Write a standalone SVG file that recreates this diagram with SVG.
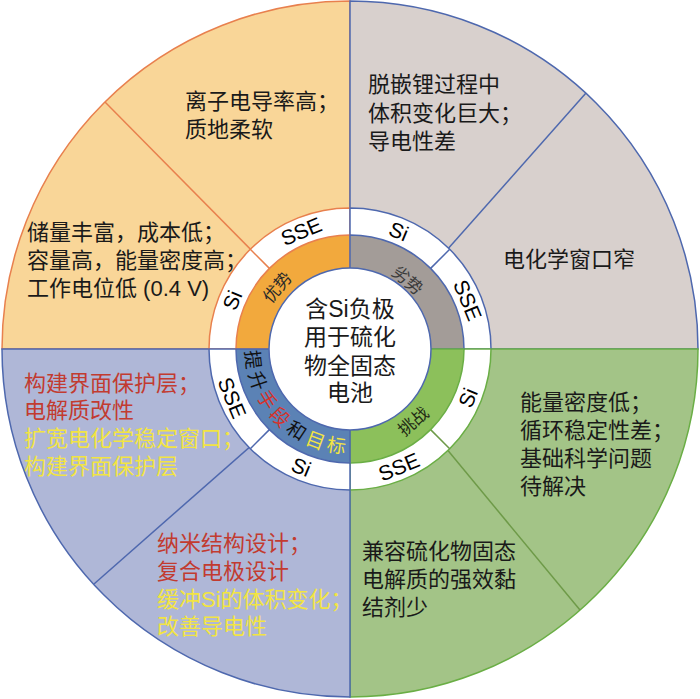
<svg xmlns="http://www.w3.org/2000/svg" width="700" height="699" viewBox="0 0 700 699">
<style>
.t{font-family:"Liberation Sans","Noto Sans CJK SC",sans-serif;font-size:22px;fill:#1a1a1a}
.c{font-family:"Liberation Sans","Noto Sans CJK SC",sans-serif;font-size:23px;fill:#1a1a1a;text-anchor:middle}
.r{font-family:"Liberation Sans",sans-serif;font-size:21px;fill:#000;text-anchor:middle}
.k{font-family:"Noto Sans CJK SC",sans-serif;font-size:17px;text-anchor:middle}
.p{font-family:"Noto Sans CJK SC",sans-serif;font-size:19px;text-anchor:middle}
.red{fill:#C23B30}
.yel{fill:#F2E443}
.or{stroke:#E8804E;stroke-width:1.5}
.bl{stroke:#4E68AE;stroke-width:1.5}
.gr{stroke:#6AAE45;stroke-width:1.5}
</style>
<g id="quadrant-advantage">
<path class="or" fill="#F9D698" d="M350,349 L2,349 A348,348 0 0 1 350,1 Z"/>
</g>
<g id="quadrant-disadvantage">
<path class="bl" fill="#D8D0CD" d="M350,349 L350,1 A348,348 0 0 1 698,349 Z"/>
</g>
<g id="quadrant-challenge">
<path class="gr" fill="#A3C487" d="M350,349 L698,349 A348,348 0 0 1 350,697 Z"/>
</g>
<g id="quadrant-strategy">
<path class="bl" fill="#AFB7D7" d="M350,349 L350,697 A348,348 0 0 1 2,349 Z"/>
</g>
<g id="connectors">
<line class="or" x1="269.4" y1="268.4" x2="105" y2="102"/>
<line class="bl" x1="430.6" y1="268.4" x2="586" y2="93"/>
<line x1="430.6" y1="429.6" x2="580" y2="610" stroke="#6E9A48" stroke-width="1.5"/>
<line class="bl" x1="269.4" y1="429.6" x2="94" y2="584"/>
</g>
<g id="ring-white">
<path class="or" fill="#fff" d="M350,349 L209,349 A141,141 0 0 1 350,208 Z"/>
<path class="bl" fill="#fff" d="M350,349 L350,208 A141,141 0 0 1 491,349 Z"/>
<path class="gr" fill="#fff" d="M350,349 L491,349 A141,141 0 0 1 350,490 Z"/>
<path class="bl" fill="#fff" d="M350,349 L350,490 A141,141 0 0 1 209,349 Z"/>
<line class="or" x1="269.4" y1="268.4" x2="250.3" y2="249.3"/>
<line class="bl" x1="430.6" y1="268.4" x2="449.7" y2="249.3"/>
<line x1="430.6" y1="429.6" x2="449.7" y2="448.7" stroke="#6E9A48" stroke-width="1.5"/>
<line class="bl" x1="269.4" y1="429.6" x2="250.3" y2="448.7"/>
</g>
<g id="ring-labels">
<text class="r" transform="translate(301.2,231.2) rotate(-22.5)" y="7.5">SSE</text>
<text class="r" transform="translate(232.2,300.2) rotate(-67.5)" y="7.5">Si</text>
<text class="r" transform="translate(398.8,231.2) rotate(22.5)" y="7.5">Si</text>
<text class="r" transform="translate(467.8,300.2) rotate(67.5)" y="7.5">SSE</text>
<text class="r" transform="translate(467.8,397.8) rotate(-67.5)" y="7.5">Si</text>
<text class="r" transform="translate(398.8,466.8) rotate(-22.5)" y="7.5">SSE</text>
<text class="r" transform="translate(232.2,397.8) rotate(67.5)" y="7.5">SSE</text>
<text class="r" transform="translate(301.2,466.8) rotate(22.5)" y="7.5">Si</text>
</g>
<g id="ring-advantage">
<path class="or" fill="#F2A93D" d="M350,349 L236,349 A114,114 0 0 1 350,235 Z"/>
<text class="k" fill="#2a2a2a" transform="translate(277,287) rotate(-50)" y="6.5">优势</text>
</g>
<g id="ring-disadvantage">
<path class="bl" fill="#A39C98" d="M350,349 L350,235 A114,114 0 0 1 464,349 Z"/>
<text class="k" fill="#3a3a3a" transform="translate(408,280) rotate(40)" y="6.5">劣势</text>
</g>
<g id="ring-challenge">
<path class="gr" fill="#8CC05B" d="M350,349 L464,349 A114,114 0 0 1 350,463 Z"/>
<text class="k" fill="#1f2a14" transform="translate(413,421) rotate(-41)" y="6.5">挑战</text>
</g>
<g id="ring-strategy">
<path class="bl" fill="#5B82B5" d="M350,349 L350,463 A114,114 0 0 1 236,349 Z"/>
<text class="p" fill="#111" transform="translate(253.1,359.7) rotate(83.7)" y="7">提</text>
<text class="p" fill="#111" transform="translate(257.8,380.6) rotate(71.1)" y="7">升</text>
<text class="p" fill="#D7322A" transform="translate(266.9,399.9) rotate(58.5)" y="7">手</text>
<text class="p" fill="#D7322A" transform="translate(280,416.9) rotate(45.9)" y="7">段</text>
<text class="p" fill="#111" transform="translate(296.5,430.5) rotate(33.3)" y="7">和</text>
<text class="p" fill="#F2E443" transform="translate(315.5,440.2) rotate(20.7)" y="7">目</text>
<text class="p" fill="#F2E443" transform="translate(336.3,445.5) rotate(8.1)" y="7">标</text>
</g>
<g id="center">
<circle cx="350" cy="349" r="81" fill="#fff" stroke="#4E68AE" stroke-width="1.5"/>
<text class="c" x="350" y="317">含Si负极</text>
<text class="c" x="350" y="345">用于硫化</text>
<text class="c" x="350" y="374">物全固态</text>
<text class="c" x="350" y="401">电池</text>
</g>
<g id="text-adv-sse">
<text class="t" x="185" y="108.5">离子电导率高；</text>
<text class="t" x="185" y="136.5">质地柔软</text>
</g>
<g id="text-adv-si">
<text class="t" x="27" y="239.5">储量丰富，成本低；</text>
<text class="t" x="27" y="267.5">容量高，能量密度高；</text>
<text class="t" x="27" y="295.5">工作电位低 (0.4 V)</text>
</g>
<g id="text-dis-si">
<text class="t" x="368" y="92">脱嵌锂过程中</text>
<text class="t" x="368" y="120.5">体积变化巨大；</text>
<text class="t" x="368" y="149">导电性差</text>
</g>
<g id="text-dis-sse">
<text class="t" x="503" y="266.5">电化学窗口窄</text>
</g>
<g id="text-chal-si">
<text class="t" x="520" y="409.5">能量密度低；</text>
<text class="t" x="520" y="437.5">循环稳定性差；</text>
<text class="t" x="520" y="465.5">基础科学问题</text>
<text class="t" x="520" y="493.5">待解决</text>
</g>
<g id="text-chal-sse">
<text class="t" x="362" y="558.5">兼容硫化物固态</text>
<text class="t" x="362" y="586.5">电解质的强效黏</text>
<text class="t" x="362" y="614.5">结剂少</text>
</g>
<g id="text-strat-sse">
<text class="t red" x="24" y="390.5">构建界面保护层；</text>
<text class="t red" x="24" y="417.5">电解质改性</text>
<text class="t yel" x="24" y="445.5">扩宽电化学稳定窗口；</text>
<text class="t yel" x="24" y="473.5">构建界面保护层</text>
</g>
<g id="text-strat-si">
<text class="t red" x="157" y="550.5">纳米结构设计；</text>
<text class="t red" x="157" y="578.5">复合电极设计</text>
<text class="t yel" x="157" y="606.5">缓冲Si的体积变化；</text>
<text class="t yel" x="157" y="633.5">改善导电性</text>
</g>
</svg>
